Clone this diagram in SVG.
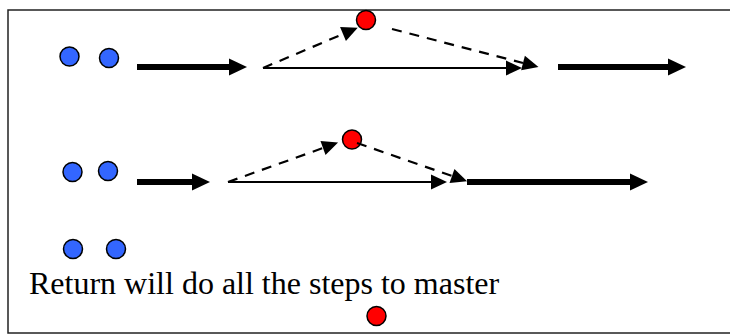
<svg xmlns="http://www.w3.org/2000/svg" width="730" height="334" viewBox="0 0 730 334">
<style>
.blue{fill:#3366FF;stroke:#000;stroke-width:1.5}
.red{fill:#FF0000;stroke:#000;stroke-width:1.5}
.thick{stroke:#000;stroke-width:6;fill:none}
.thin{stroke:#000;stroke-width:2;fill:none}
.dash{stroke:#000;stroke-width:2.2;stroke-dasharray:10 8;fill:none}
.lbl{font-family:"Liberation Serif","Times New Roman",serif;font-size:32px;fill:#000}
</style>
<defs>
<marker id="hThick" markerUnits="userSpaceOnUse" markerWidth="20" markerHeight="20" viewBox="0 -10 20 20" refX="0" refY="0" orient="auto" overflow="visible"><path d="M0,-8.5 L18,0 L0,8.5 z" fill="#000"/></marker>
<marker id="hThin" markerUnits="userSpaceOnUse" markerWidth="20" markerHeight="20" viewBox="0 -10 20 20" refX="0" refY="0" orient="auto" overflow="visible"><path d="M0,-7.5 L16,0 L0,7.5 z" fill="#000"/></marker>
</defs>
<rect x="8" y="10" width="740" height="323" fill="#fff" stroke="#222" stroke-width="1.5"/>
<g id="connectors">
<line class="thick" x1="137" y1="67" x2="229" y2="67" marker-end="url(#hThick)"/>
<line class="dash" x1="263" y1="68" x2="343" y2="34" marker-end="url(#hThin)"/>
<line class="thin" x1="263" y1="68" x2="506" y2="68" marker-end="url(#hThin)"/>
<line class="dash" x1="392" y1="29" x2="523" y2="63" marker-end="url(#hThin)"/>
<line class="thick" x1="558" y1="67" x2="668" y2="67" marker-end="url(#hThick)"/>
<line class="thick" x1="137" y1="182" x2="192" y2="182" marker-end="url(#hThick)"/>
<line class="dash" x1="228" y1="182" x2="323" y2="148" marker-end="url(#hThin)"/>
<line class="thin" x1="228" y1="182" x2="431" y2="182" marker-end="url(#hThin)"/>
<line class="thick" x1="467" y1="182" x2="630" y2="182" marker-end="url(#hThick)"/>
</g>
<g id="row1-blue1"><circle class="blue" cx="69.5" cy="56.5" r="9.5"/></g>
<g id="row1-blue2"><circle class="blue" cx="109" cy="58" r="9.5"/></g>
<g id="row1-red"><circle class="red" cx="366" cy="20" r="9.5"/></g>
<g id="row2-blue1"><circle class="blue" cx="72.5" cy="172" r="9.5"/></g>
<g id="row2-blue2"><circle class="blue" cx="108" cy="171" r="9.5"/></g>
<g id="row2-red"><circle class="red" cx="352" cy="139.5" r="9.5"/></g>
<g id="connectors-over">
<line class="dash" x1="357" y1="143" x2="452" y2="176" marker-end="url(#hThin)"/>
</g>
<g id="row3-blue1"><circle class="blue" cx="73" cy="249" r="9.5"/></g>
<g id="row3-blue2"><circle class="blue" cx="116" cy="249" r="9.5"/></g>
<g id="label"><text class="lbl" x="29" y="294">Return will do all the steps to master</text></g>
<g id="row3-red"><circle class="red" cx="376.5" cy="316" r="9.5"/></g>
</svg>
